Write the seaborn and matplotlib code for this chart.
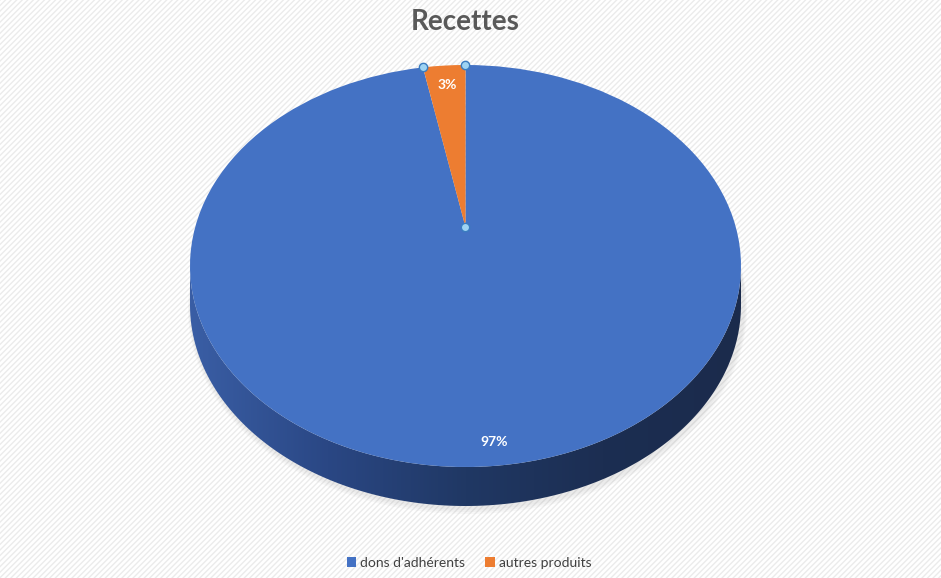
import numpy as np
import matplotlib
matplotlib.use("Agg")
import matplotlib.pyplot as plt
import seaborn as sns
from matplotlib.transforms import Transform
from matplotlib.patches import Polygon, Rectangle, Ellipse
from matplotlib.colors import LinearSegmentedColormap

# ---- data ----
categories = ["dons d'adhérents", "autres produits"]
values = [97, 3]
colors = ["#4472C4", "#ED7D31"]
title = "Recettes"

sns.set_theme(style="white")
plt.rcParams['font.family'] = ['Lato', 'DejaVu Sans']

W, H = 941, 578
fig = plt.figure(figsize=(W / 100, H / 100), dpi=100)
fig.patch.set_facecolor("white")
bg = Rectangle((0, 0), 1, 1, transform=fig.transFigure, facecolor="white",
               edgecolor="#ebebeb", linewidth=0, hatch="//////", zorder=-10)
fig.patches.append(bg)

ax = fig.add_axes([0, 0, 1, 1])
ax.set_facecolor("none")

cx, cy = 465.5, H - 266
R = 275.5
k = 201 / 275.5
depth = 39
tilt = 0.194  # apparent shift of the pie centre toward the back (perspective)


class Perspective(Transform):
    """Tilted-disc perspective: maps the pie circle onto the screen ellipse."""
    input_dims = output_dims = 2
    is_separable = False
    has_inverse = False

    def __init__(self):
        super().__init__()
        self.c = 1 / np.sqrt(1 - tilt ** 2)
        self.s = tilt * self.c

    def transform_non_affine(self, values):
        values = np.asarray(values, dtype=float)
        u = (values[:, 0] - cx) / R
        v = (values[:, 1] - cy) / R
        w = v * self.s + self.c
        u2 = u / w
        v2 = (v * self.c + self.s) / w
        return np.column_stack([cx + R * u2, cy + R * k * v2])


T = Perspective() + ax.transData

# soft shadow
for i in range(3):
    sh = Ellipse((cx + 2, cy - depth - 2 - i), 2 * R + 4 + 2 * i, 2 * R * k + 4 + 2 * i,
                 facecolor="#808080", alpha=0.05, edgecolor="none", zorder=0)
    ax.add_patch(sh)

# side band (3D depth) with gradient
t = np.linspace(np.pi, 2 * np.pi, 200)
top = np.column_stack([cx + R * np.cos(t), cy + R * k * np.sin(t)])
bot = np.column_stack([cx + R * np.cos(t[::-1]), cy - depth + R * k * np.sin(t[::-1])])
band = Polygon(np.vstack([top, bot]), closed=True, facecolor="none", edgecolor="none", zorder=1)
ax.add_patch(band)
cmap = LinearSegmentedColormap.from_list("side", ["#3a5ea5", "#2a4784", "#203864", "#1c2e52", "#1b2b4c"])
grad = np.linspace(0, 1, 256).reshape(1, -1)
im = ax.imshow(grad, cmap=cmap, extent=[cx - R, cx + R, cy - R * k - depth, cy],
               origin="lower", aspect="auto", zorder=1)
im.set_clip_path(band)

# top face via pie
wedges, texts, autotexts = ax.pie(
    values, colors=colors, startangle=90, counterclock=False, radius=R,
    center=(cx, cy), autopct="%1.0f%%", pctdistance=0.92,
    wedgeprops=dict(linewidth=0), textprops=dict(color="white", fontsize=10, fontweight="bold"))
for w in wedges:
    w.set_transform(T)
    w.set_zorder(2)
# the small slice's label sits a little closer to the centre
x3, y3 = autotexts[1].get_position()
autotexts[1].set_position((cx + (x3 - cx) * 0.86 / 0.92, cy + (y3 - cy) * 0.86 / 0.92))
for tx in autotexts:
    tx.set_transform(T)
    tx.set_zorder(3)

# selection handles on the small slice
o = wedges[1]
pts_x = [cx] + [cx + R * np.cos(np.deg2rad(a)) for a in (o.theta1, o.theta2)]
pts_y = [cy] + [cy + R * np.sin(np.deg2rad(a)) for a in (o.theta1, o.theta2)]
ax.plot(pts_x, pts_y, 'o', ms=6, mfc="#9dd3f3", mec="#3a7cc0", mew=1, transform=T, zorder=4)

ax.set_aspect("auto")
ax.set_xlim(0, W)
ax.set_ylim(0, H)
ax.axis("off")

fig.text(465 / W, 1 - 22 / H, title, ha="center", va="center", fontsize=20,
         fontweight="bold", color="#595959")

fig.legend(wedges, categories, loc="center", bbox_to_anchor=(469 / W, 1 - 563 / H), ncol=2,
           frameon=False, fontsize=10, handlelength=0.7, handleheight=0.7,
           handletextpad=0.3, columnspacing=1.4, labelcolor="#404040")

fig.savefig("out.png", dpi=100)
